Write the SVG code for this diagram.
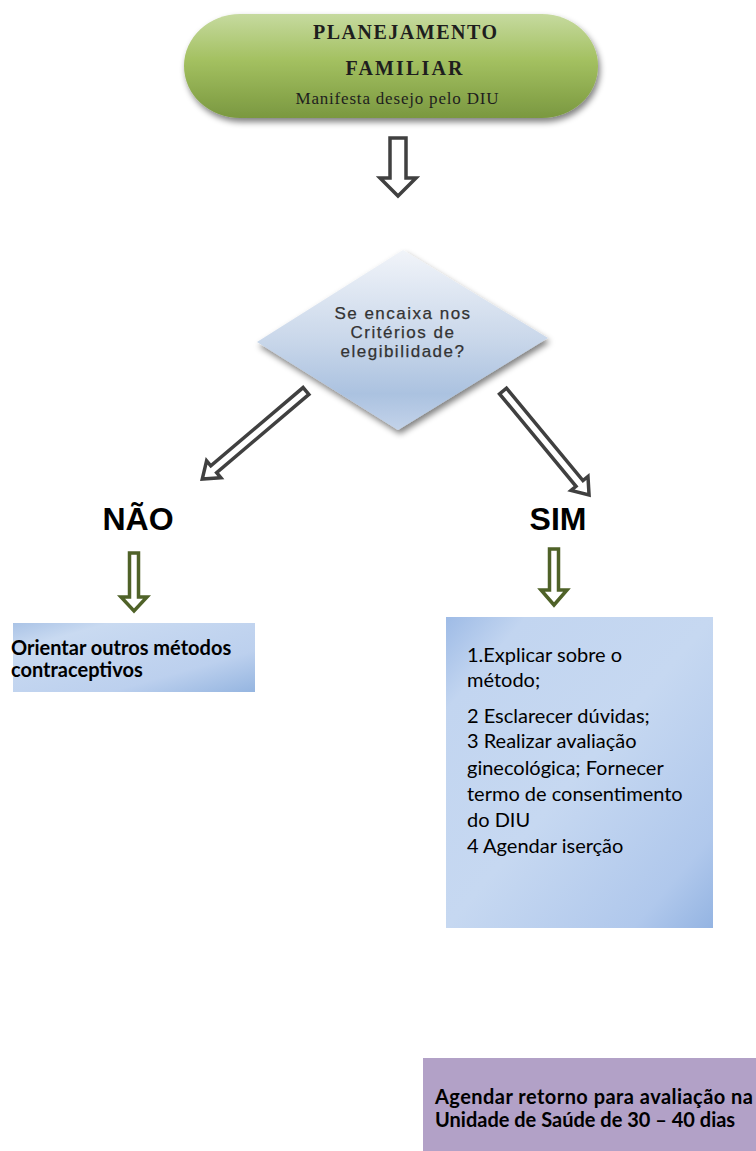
<svg xmlns="http://www.w3.org/2000/svg" width="756" height="1151" viewBox="0 0 756 1151">
<defs>
<linearGradient id="gPill" x1="0" y1="0" x2="0" y2="1">
<stop offset="0" stop-color="#c6da9f"/>
<stop offset="0.45" stop-color="#a3c060"/>
<stop offset="1" stop-color="#7a9840"/>
</linearGradient>
<linearGradient id="gDia" x1="0" y1="0" x2="0" y2="1">
<stop offset="0" stop-color="#f1f4f9"/>
<stop offset="0.5" stop-color="#c9d7ea"/>
<stop offset="0.8" stop-color="#abc2e0"/>
<stop offset="1" stop-color="#c3d3ea"/>
</linearGradient>
<linearGradient id="gNao" x1="0" y1="0" x2="1" y2="1">
<stop offset="0" stop-color="#aac3e6"/>
<stop offset="0.2" stop-color="#c9daf1"/>
<stop offset="0.7" stop-color="#bcd0ee"/>
<stop offset="1" stop-color="#95b5e0"/>
</linearGradient>
<linearGradient id="gSim" x1="0" y1="0" x2="1" y2="1">
<stop offset="0" stop-color="#9ebbe6"/>
<stop offset="0.15" stop-color="#c2d5f0"/>
<stop offset="0.5" stop-color="#c6d8f1"/>
<stop offset="0.85" stop-color="#b0c8ec"/>
<stop offset="1" stop-color="#94b4e2"/>
</linearGradient>
<filter id="shadow" x="-10%" y="-10%" width="125%" height="135%">
<feGaussianBlur in="SourceAlpha" stdDeviation="3"/>
<feOffset dx="2" dy="4" result="b"/>
<feComponentTransfer><feFuncA type="linear" slope="0.5"/></feComponentTransfer>
<feMerge><feMergeNode/><feMergeNode in="SourceGraphic"/></feMerge>
</filter>
</defs>
<style>
.pill{font-family:"Liberation Serif",serif;fill:#1e1e1e;text-anchor:middle}
.dia{font-family:"Liberation Sans",Arial,sans-serif;font-size:17px;fill:#333;stroke:#333;stroke-width:0.25;text-anchor:middle;letter-spacing:1.5px}
.big{font-family:"Liberation Sans",Arial,sans-serif;font-size:32px;font-weight:bold;fill:#000;text-anchor:middle}
.box{font-family:Lato,"Liberation Sans",sans-serif;font-size:20px;fill:#000}
.bold{font-weight:bold}
.blk{fill:#fff;stroke:#404040;stroke-width:3.5;stroke-linejoin:miter}
.grn{fill:#fff;stroke:#4f6228;stroke-width:3.5;stroke-linejoin:miter}
</style>

<g id="node-inicio">
<rect x="184" y="14" width="414" height="104" rx="56" ry="52" fill="url(#gPill)" filter="url(#shadow)"/>
<text class="pill" x="405" y="39" font-size="20" font-weight="bold" textLength="184">PLANEJAMENTO</text>
<text class="pill" x="404" y="75" font-size="20" font-weight="bold" textLength="117">FAMILIAR</text>
<text class="pill" x="397" y="104" font-size="17" fill="#333" textLength="203">Manifesta desejo pelo DIU</text>
</g>

<g id="node-decisao">
<polygon points="403,250 548,338 398,430 257,342" fill="url(#gDia)" filter="url(#shadow)"/>
<text class="dia" x="403" y="319">Se encaixa nos</text>
<text class="dia" x="403" y="338">Critérios de</text>
<text class="dia" x="403" y="357">elegibilidade?</text>
</g>

<g id="node-nao-label">
<text class="big" x="138" y="530">NÃO</text>
</g>

<g id="node-sim-label">
<text class="big" x="558" y="530">SIM</text>
</g>

<g id="node-orientar">
<rect x="13" y="623" width="242" height="69" fill="url(#gNao)"/>
<text class="box bold" x="11" y="655">Orientar outros métodos</text>
<text class="box bold" x="11" y="677">contraceptivos</text>
</g>

<g id="node-procedimentos">
<rect x="446" y="617" width="267" height="311" fill="url(#gSim)"/>
<text class="box" x="467" y="662">1.Explicar sobre o</text>
<text class="box" x="467" y="687">método;</text>
<text class="box" x="467" y="723">2 Esclarecer dúvidas;</text>
<text class="box" x="467" y="748">3 Realizar avaliação</text>
<text class="box" x="467" y="775">ginecológica; Fornecer</text>
<text class="box" x="467" y="801">termo de consentimento</text>
<text class="box" x="467" y="827">do DIU</text>
<text class="box" x="467" y="853">4 Agendar iserção</text>
</g>

<g id="node-retorno">
<rect x="423" y="1058" width="340" height="100" fill="#b2a1c7"/>
<text class="box bold" x="435" y="1104" textLength="318" lengthAdjust="spacing">Agendar retorno para avaliação na</text>
<text class="box bold" x="435" y="1127">Unidade de Saúde de 30 – 40 dias</text>
</g>

<g id="connectors">
<path class="blk" d="M390,138 L406,138 L406,178 L416,178 L398,196 L380,178 L390,178 Z"/>
<path class="blk" transform="translate(306,391) rotate(139.7)" d="M0,-4.5 L121,-4.5 L121,-11 L136,0 L121,11 L121,4.5 L0,4.5 Z"/>
<path class="blk" transform="translate(503,391) rotate(50.4)" d="M0,-4.5 L120,-4.5 L120,-11 L135,0 L120,11 L120,4.5 L0,4.5 Z"/>
<path class="grn" d="M129.5,553 L138.5,553 L138.5,597 L147,597 L134,611 L121,597 L129.5,597 Z"/>
<path class="grn" d="M549.5,549 L558.5,549 L558.5,590 L567,590 L554,605 L541,590 L549.5,590 Z"/>
</g>
</svg>
